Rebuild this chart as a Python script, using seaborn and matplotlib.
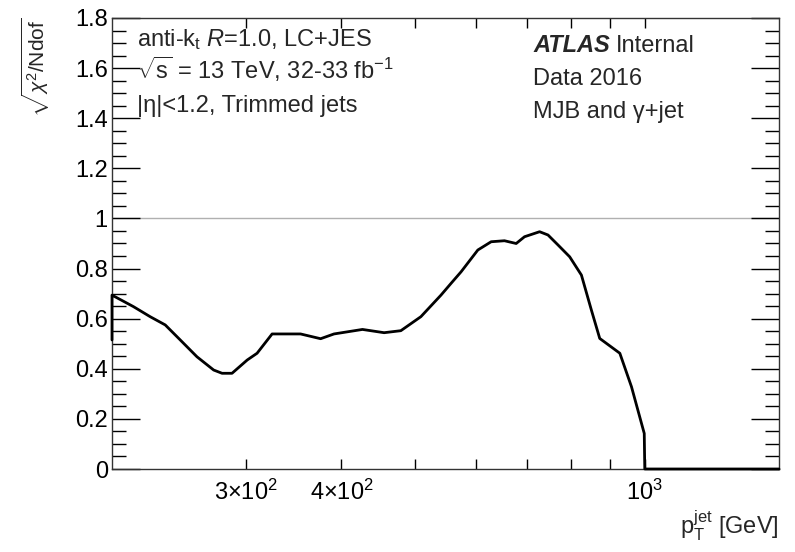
import numpy as np
import pandas as pd
import matplotlib
matplotlib.use("Agg")
import matplotlib.pyplot as plt
import seaborn as sns
from matplotlib.ticker import FixedLocator, MultipleLocator, NullFormatter

# Data (pT in GeV, sqrt(chi2/Ndof))
pt = [200, 200, 213.4, 224.4, 234.9, 245.8, 258.5, 271.9, 278.9, 287.4, 300.9,
      310.0, 324.4, 353.5, 375.6, 391.1, 426.2, 455.0, 478.6, 508.5, 540.3,
      557.0, 574.1, 603.9, 628.7, 654.5, 678.1, 695.4, 727.8, 746.5, 769.5,
      797.0, 825.8, 851.1, 872.8, 927.4, 960.7, 998.4, 1000, 1500]
chi2 = [0.515, 0.694, 0.648, 0.608, 0.575, 0.515, 0.448, 0.395, 0.382, 0.382, 0.435,
        0.462, 0.539, 0.539, 0.520, 0.539, 0.557, 0.544, 0.552, 0.608, 0.694,
        0.741, 0.787, 0.874, 0.907, 0.911, 0.900, 0.927, 0.947, 0.934, 0.894,
        0.847, 0.774, 0.634, 0.521, 0.462, 0.328, 0.142, 0.0, 0.0]

xtick_vals = [300, 400, 1000]
xtick_labels = [r"$3{\times}10^{2}$", r"$4{\times}10^{2}$", r"$10^{3}$"]

left_lines = [r"anti-k$_{\mathrm{t}}$ $R$=1.0, LC+JES",
              r"$\sqrt{\mathrm{s}}$ = 13 TeV, 32-33 fb$^{\mathrm{-1}}$",
              r"|η|<1.2, Trimmed jets"]
right_lines = ["Data 2016", "MJB and γ+jet"]

FS = 17

sns.set_style("ticks")
plt.rcParams["font.family"] = ["Liberation Sans", "DejaVu Sans"]
plt.rcParams["mathtext.fontset"] = "custom"
plt.rcParams["mathtext.rm"] = "Liberation Sans"
plt.rcParams["mathtext.it"] = "Liberation Sans:italic"
plt.rcParams["mathtext.bf"] = "Liberation Sans:bold"

W, H = 795, 552
fig = plt.figure(figsize=(W / 100, H / 100), dpi=100)
ax = fig.add_axes([112 / W, 1 - 469 / H, (779 - 112) / W, (469 - 18) / H])

df = pd.DataFrame({"pt": pt, "chi2": chi2})
sns.lineplot(data=df, x="pt", y="chi2", sort=False, estimator=None,
             color="black", linewidth=2.0, ax=ax, clip_on=False, zorder=3)
ax.axhline(1.0, color="#b0b0b0", linewidth=1.0, zorder=0)

ax.set_xscale("log")
ax.set_xlim(200, 1500)
ax.set_ylim(0, 1.8)

ax.xaxis.set_major_locator(FixedLocator(xtick_vals))
ax.xaxis.set_major_formatter(matplotlib.ticker.FixedFormatter(xtick_labels))
ax.xaxis.set_minor_locator(FixedLocator([500, 600, 700, 800, 900]))
ax.xaxis.set_minor_formatter(NullFormatter())
ax.yaxis.set_major_locator(MultipleLocator(0.2))
ax.yaxis.set_minor_locator(MultipleLocator(0.05))
ax.yaxis.set_major_formatter(matplotlib.ticker.FuncFormatter(
    lambda v, p: "0" if abs(v) < 1e-9 else ("1" if abs(v - 1) < 1e-9 else f"{v:.1f}")))

ax.tick_params(axis="both", which="both", direction="in", top=True, right=True,
               colors="black", width=1.0)
ax.tick_params(axis="x", which="both", length=7, labelsize=FS, pad=8)
ax.tick_params(axis="y", which="major", length=20, labelsize=FS, pad=3)
ax.tick_params(axis="y", which="minor", length=10)
for s in ax.spines.values():
    s.set_color("#333333")
    s.set_linewidth(1.0)
ax.set_xlabel("")
ax.set_ylabel("")


def px(x, y):
    return x / W, 1 - y / H


fig.text(*px(36, 17), r"$\sqrt{\chi^{2}/\mathrm{Ndof}}$", rotation=90,
         ha="center", va="top", fontsize=15)
fig.text(*px(779, 534), r"p$_{\mathrm{T}}^{\mathrm{jet}}$ [GeV]", ha="right",
         va="baseline", fontsize=FS)

for i, t in enumerate(left_lines):
    fig.text(*px(137, 46 + 33 * i), t, ha="left", va="baseline", fontsize=FS)

atlas = fig.text(*px(533, 52), "ATLAS", ha="left", va="baseline", fontsize=FS,
                 fontweight="bold", fontstyle="italic")
fig.canvas.draw()
x_end = atlas.get_window_extent().x1
fig.text((x_end + 6) / W, 1 - 52 / H, "Internal", ha="left", va="baseline",
         fontsize=FS)
for i, t in enumerate(right_lines):
    fig.text(*px(533, 85 + 33 * i), t, ha="left", va="baseline", fontsize=FS)

fig.savefig("out.png", dpi=100)
